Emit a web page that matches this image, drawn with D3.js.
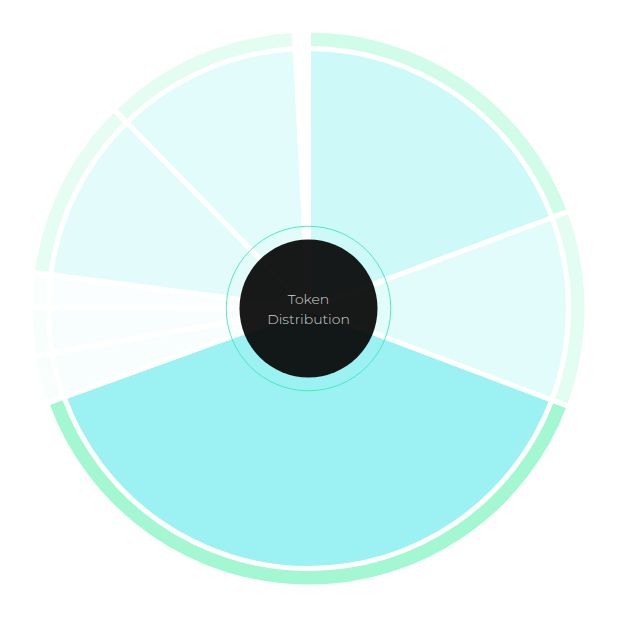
<!DOCTYPE html>
<html>
<head>
<meta charset="utf-8">
<script src="https://cdn.jsdelivr.net/npm/d3@7"></script>
<style>
  html, body { margin: 0; padding: 0; background: #ffffff; }
  svg { display: block; }
</style>
</head>
<body>
<svg id="chart" width="617" height="617"></svg>
<script>
// ---- data ----
const categories = ["Slice A", "Slice B", "Slice C", "Slice D", "Slice E", "Slice F", "Slice G", "Slice H", "Slice I"];
const shares = [19.3, 11.4, 38.7, 2.8, 2.8, 2.0, 10.6, 11.5, 0.8];
const centerLines = ["Token", "Distribution"];

// ---- layout ----
const W = 617, H = 617;
const cx = 308.5, cy = 308.5;
const rSlice = 260, rRingIn = 259.5, rRingOut = 278.5;
const rCenter = 69, rHalo = 82.3;

const svg = d3.select("#chart");
const g = svg.append("g").attr("transform", `translate(${cx},${cy})`);

const data = categories.map((c, i) => ({ name: c, value: shares[i] }));
const pie = d3.pie().value(d => d.value).sort(null);
const arcs = pie(data);

const maxV = d3.max(shares);
const sliceColor = d3.scaleLinear().domain([0, maxV]).range(["#ffffff", "#9cf2f2"]);
const ringColor = d3.scaleLinear().domain([0, maxV]).range(["#ffffff", "#a3f8d3"]);

const sliceArc = d3.arc().innerRadius(0).outerRadius(rSlice);
const ringArc = d3.arc().innerRadius(rRingIn).outerRadius(rRingOut);

g.selectAll("path.ring").data(arcs).join("path")
  .attr("class", "ring")
  .attr("d", ringArc)
  .attr("fill", d => ringColor(d.data.value))
  .attr("stroke", "#ffffff")
  .attr("stroke-width", 5);

g.selectAll("path.slice").data(arcs).join("path")
  .attr("class", "slice")
  .attr("d", sliceArc)
  .attr("fill", d => sliceColor(d.data.value))
  .attr("stroke", "#ffffff")
  .attr("stroke-width", 5);

g.append("circle")
  .attr("r", rHalo)
  .attr("fill", "none")
  .attr("stroke", "#3fe8b8")
  .attr("stroke-width", 0.9);

g.append("circle")
  .attr("r", rCenter)
  .attr("fill", "#080808")
  .attr("fill-opacity", 0.93);

g.append("text")
  .attr("text-anchor", "middle")
  .attr("font-family", "Montserrat, Lato, 'Open Sans', sans-serif")
  .attr("font-weight", 300)
  .attr("font-size", 14)
  .attr("fill", "#d2d2d2")
  .selectAll("tspan").data(centerLines).join("tspan")
  .attr("x", 0)
  .attr("y", (d, i) => -4.5 + i * 19.5)
  .text(d => d);
</script>
</body>
</html>
